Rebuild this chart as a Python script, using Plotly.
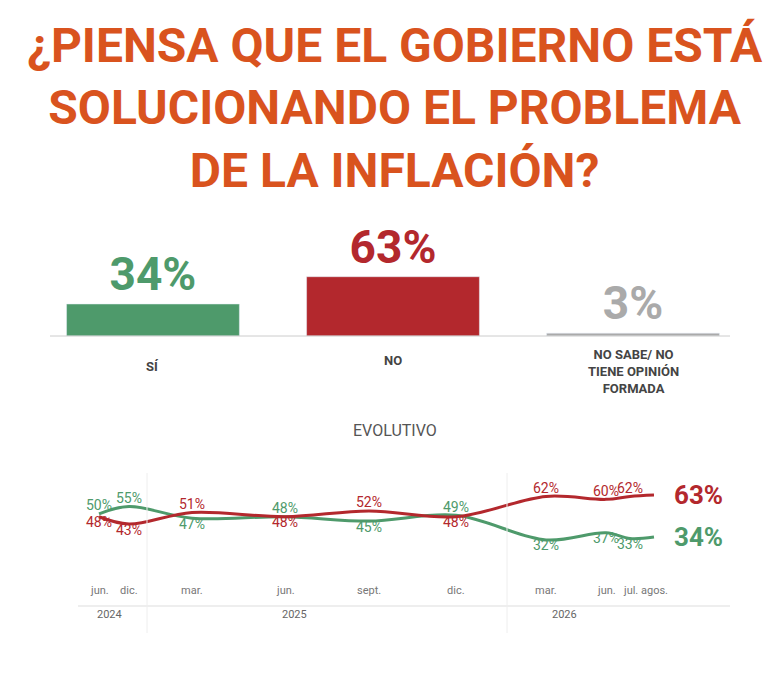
import plotly.graph_objects as go

# top bars
bar_labels = ["SÍ", "NO", "NO SABE/ NO<br>TIENE OPINIÓN<br>FORMADA"]
bar_values = [34, 63, 3]
bar_colors = ["#4E9A6B", "#B3282D", "#AAAAAA"]

# evolution
months = ["jun.", "dic.", "mar.", "jun.", "sept.", "dic.", "mar.", "jun.", "jul.", "agos."]
month_pos = [0, 1, 3.1, 6.2, 9, 11.9, 14.9, 16.9, 17.7, 18.5]
si_vals = [50, 55, 47, 48, 45, 49, 32, 37, 33, 34]
no_vals = [48, 43, 51, 48, 52, 48, 62, 60, 62, 63]
si_pos = ["top center", "top center", "bottom center", "top center", "bottom center",
          "top center", "bottom center", "bottom center", "bottom center", None]
no_pos = ["bottom center", "bottom center", "top center", "bottom center", "top center",
          "bottom center", "top center", "top center", "top center", None]
years = ["2024", "2025", "2026"]
year_pos = [0.35, 6.5, 15.5]
year_breaks = [1.6, 13.6]

GREEN, RED, GRAY = "#4E9A6B", "#B3282D", "#AAAAAA"
H, W = 686, 773
py = lambda p: 1 - p / H

fig = go.Figure()
fig.add_trace(go.Bar(
    x=[0, 1, 2], y=bar_values, width=0.72, marker_color=bar_colors,
    text=[f"<b>{v}%</b>" for v in bar_values], textposition="outside", cliponaxis=False,
    textfont=dict(size=46, color=bar_colors, family="Roboto"),
    xaxis="x", yaxis="y", showlegend=False))

for vals, pos, col in [(si_vals, si_pos, GREEN), (no_vals, no_pos, RED)]:
    fig.add_trace(go.Scatter(
        x=month_pos, y=vals, mode="lines+text", line=dict(color=col, width=3, shape="spline"),
        text=[f"{v}%" if p else "" for v, p in zip(vals, pos)],
        textposition=[p or "middle right" for p in pos],
        textfont=dict(size=14, color=col), cliponaxis=False,
        xaxis="x2", yaxis="y2", showlegend=False))
    fig.add_annotation(x=month_pos[-1] + 0.6, y=vals[-1], xref="x2", yref="y2",
                       text=f"<b>{vals[-1]}%</b>", showarrow=False, xanchor="left", yanchor="middle",
                       font=dict(size=26, color=col, family="Roboto"))

fig.update_layout(
    width=W, height=H, margin=dict(l=0, r=0, t=0, b=0),
    plot_bgcolor="white", paper_bgcolor="white", font=dict(family="Roboto", color="#444"),
    xaxis=dict(domain=[42 / W, 722 / W], range=[-0.429, 2.404], visible=False),
    yaxis=dict(domain=[py(328), py(200)], range=[0, 136], visible=False),
    xaxis2=dict(domain=[0, 1], range=[-91 / 30, (W - 91) / 30], visible=False),
    yaxis2=dict(domain=[py(600), py(440)], range=[-14.9, 95.4], visible=False),
)

fig.add_annotation(x=0.5, y=py(100), xref="paper", yref="paper", showarrow=False, yanchor="middle",
                   text="<b>¿PIENSA QUE EL GOBIERNO ESTÁ<br>SOLUCIONANDO EL PROBLEMA<br>DE LA INFLACIÓN?</b>",
                   font=dict(size=48, color="#D9531E", family="Roboto"))
fig.add_shape(type="line", xref="paper", yref="paper", x0=42 / W, x1=722 / W, y0=py(328), y1=py(328),
              line=dict(color="#CCCCCC", width=1))
for i, (lab, yp) in enumerate(zip(bar_labels, [358, 352, 363])):
    fig.add_annotation(x=i, y=py(yp), xref="x", yref="paper", text=f"<b>{lab}</b>", showarrow=False,
                       yanchor="middle", font=dict(size=13, color="#444"))
fig.add_annotation(x=0.5, y=py(422), xref="paper", yref="paper", text="EVOLUTIVO", showarrow=False,
                   yanchor="middle", font=dict(size=16, color="#555"))
for m, xp in zip(months, month_pos):
    fig.add_annotation(x=xp, y=py(582), xref="x2", yref="paper", text=m, showarrow=False,
                       yanchor="middle", font=dict(size=11, color="#777"))
fig.add_shape(type="line", xref="paper", yref="paper", x0=70 / W, x1=722 / W, y0=py(598), y1=py(598),
              line=dict(color="#DDDDDD", width=1))
for yr, xp in zip(years, year_pos):
    fig.add_annotation(x=xp, y=py(606), xref="x2", yref="paper", text=yr, showarrow=False,
                       yanchor="middle", font=dict(size=11, color="#666"))
for xb in year_breaks:
    fig.add_shape(type="line", xref="x2", yref="paper", x0=xb, x1=xb, y0=py(625), y1=py(465),
                  line=dict(color="#EEEEEE", width=1))

fig.write_html("out.html")
